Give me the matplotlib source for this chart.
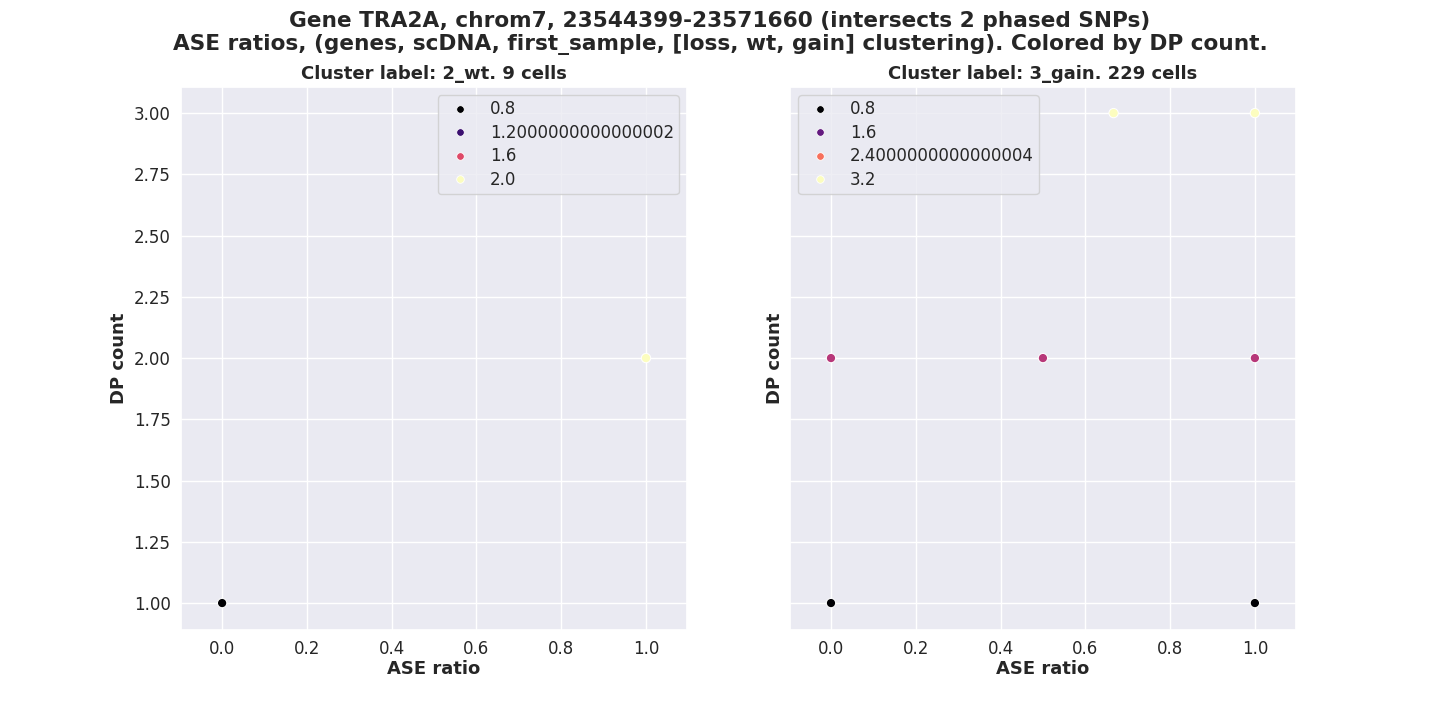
import matplotlib
matplotlib.use("Agg")
import matplotlib.pyplot as plt
import seaborn as sns
import numpy as np
from matplotlib.colors import Normalize
from matplotlib.lines import Line2D

sns.set_theme(style="darkgrid")
plt.rcParams['font.family'] = ['DejaVu Sans']

# Data
left_ase = [0.0, 1.0]
left_dp = [1, 2]
right_ase = [0.0, 1.0, 0.0, 0.5, 1.0, 0.6667, 1.0]
right_dp = [1, 1, 2, 2, 2, 3, 3]
left_legend = ["0.8", "1.2000000000000002", "1.6", "2.0"]
right_legend = ["0.8", "1.6", "2.4000000000000004", "3.2"]
titles = ["Cluster label: 2_wt. 9 cells", "Cluster label: 3_gain. 229 cells"]
suptitle = ("Gene TRA2A, chrom7, 23544399-23571660 (intersects 2 phased SNPs)\n"
            "ASE ratios, (genes, scDNA, first_sample, [loss, wt, gain] clustering). Colored by DP count.")

cmap = plt.get_cmap("magma")

fig, axes = plt.subplots(1, 2, figsize=(14.4, 7.2), dpi=100, sharey=True)
fig.subplots_adjust(left=0.1257, right=0.9, bottom=0.125, top=0.879, wspace=0.203)

panels = [(left_ase, left_dp, left_legend), (right_ase, right_dp, right_legend)]
for ax, (xs, ys, leg), title in zip(axes, panels, titles):
    norm = Normalize(min(ys), max(ys))
    cols = [cmap(norm(v)) for v in ys]
    ax.scatter(xs, ys, c=cols, s=45, edgecolors="white", linewidths=0.75, zorder=3)
    handles = [Line2D([], [], marker="o", linestyle="", markersize=5.5,
                      markerfacecolor=cmap(np.clip(norm(float(l)), 0, 1)),
                      markeredgecolor="white", markeredgewidth=0.6) for l in leg]
    ax.legend(handles, leg, loc="upper right" if ax is axes[0] else "upper left",
              fontsize=12, handletextpad=0.8, labelspacing=0.33, borderpad=0.3)
    ax.set_xlim(-0.097, 1.097)
    ax.set_xticks([0.0, 0.2, 0.4, 0.6, 0.8, 1.0])
    ax.set_title(title, fontsize=13, fontweight="bold", pad=6)
    ax.set_xlabel("ASE ratio", fontsize=13, fontweight="bold", labelpad=1)
    ax.set_ylabel("DP count", fontsize=13, fontweight="bold")
    ax.tick_params(labelsize=12, pad=1.5)

axes[1].tick_params(labelleft=False)
axes[1].yaxis.label.set_visible(True)
axes[0].set_ylim(0.89, 3.106)
axes[0].set_yticks([1.0, 1.25, 1.5, 1.75, 2.0, 2.25, 2.5, 2.75, 3.0])

fig.suptitle(suptitle, fontsize=15.6, fontweight="bold", y=0.985)
fig.savefig("out.png", dpi=100)
